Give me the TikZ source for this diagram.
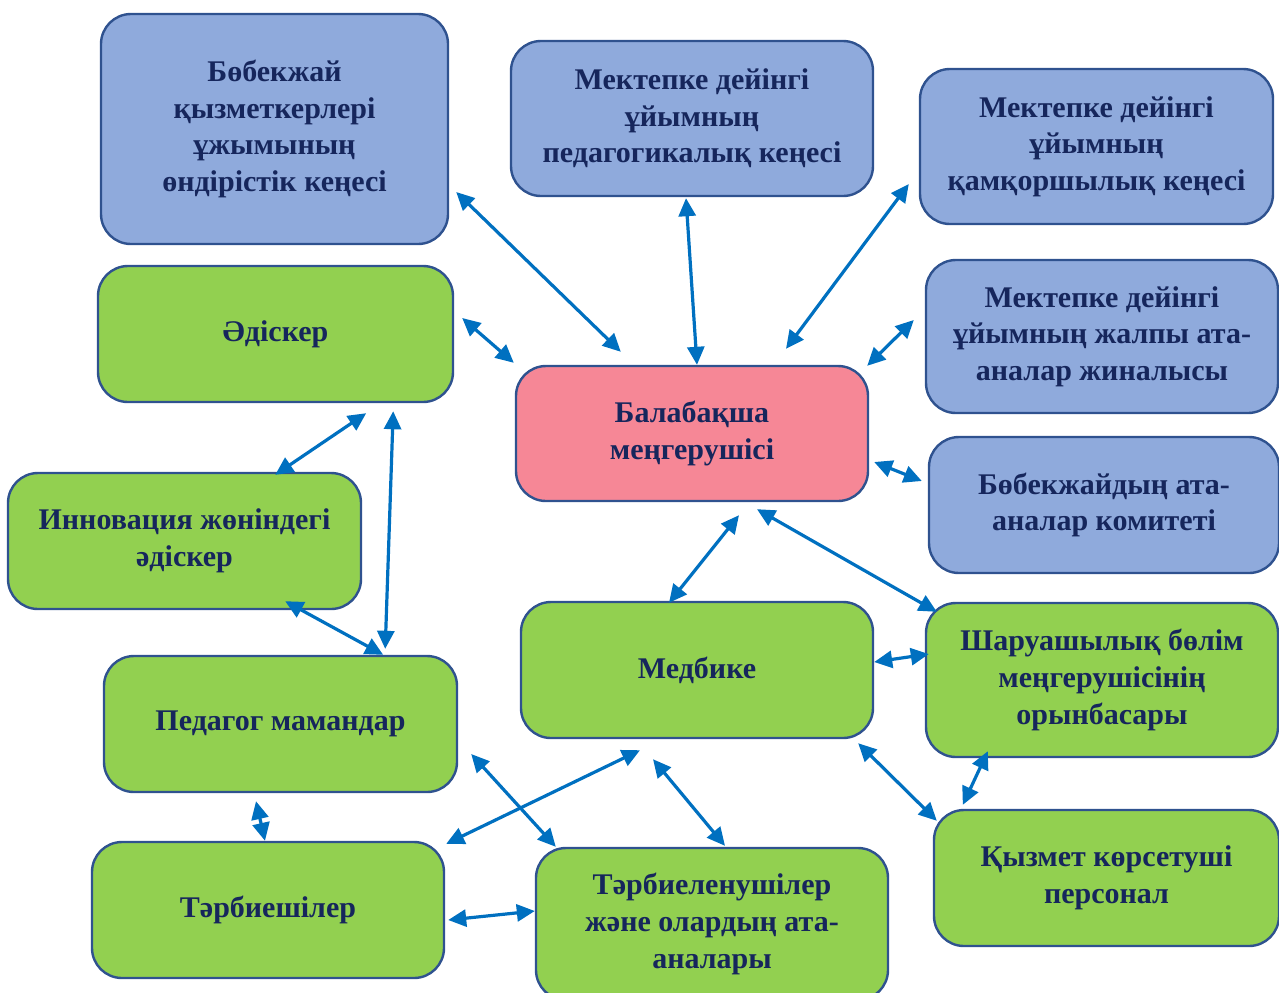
\documentclass[tikz,border=0pt]{standalone}
\usepackage{fontspec}
\setmainfont{Liberation Serif}
\usepackage{tikz}
\usetikzlibrary{arrows.meta, calc}
\definecolor{box-blue}{RGB}{143,170,220}
\definecolor{box-green}{RGB}{146,208,80}
\definecolor{box-pink}{RGB}{246,135,150}
\definecolor{box-line}{RGB}{47,82,143}
\definecolor{text-navy}{RGB}{22,38,92}
\definecolor{link-blue}{RGB}{0,112,192}

\begin{document}
\begin{tikzpicture}[x=0.5pt, y=-0.5pt,
	box/.style={draw=box-line, line width=1.2pt, rounded corners=15pt, inner sep=0pt,
		align=center, text=text-navy, font=\fontsize{15}{18.3}\selectfont\bfseries},
	blue/.style={box, fill=box-blue},
	green/.style={box, fill=box-green},
	pink/.style={box, fill=box-pink},
	link/.style={link-blue, line width=1.6pt,
		{Triangle[length=9pt,width=8.5pt]}-{Triangle[length=9pt,width=8.5pt]}}]
	\useasboundingbox (0,0) rectangle (1279,992);
	\clip (0,0) rectangle (1279,992);
	% councils
	\node[blue, minimum width=173.5pt, minimum height=115pt] (bobek) at (274.5,129) {Бөбекжай\\ қызметкерлері\\ ұжымының\\ өндірістік кеңесі};
	\node[blue, minimum width=181pt, minimum height=77.5pt] (ped) at (692,118.5) {Мектепке дейінгі\\ ұйымның\\ педагогикалық кеңесі};
	\node[blue, minimum width=176.5pt, minimum height=77.5pt] (kam) at (1096.5,146.5) {Мектепке дейінгі\\ ұйымның\\ қамқоршылық кеңесі};
	\node[blue, minimum width=176pt, minimum height=76.5pt] (zhalpy) at (1102,336.5) {Мектепке дейінгі\\ ұйымның жалпы ата-\\ аналар жиналысы};
	\node[blue, minimum width=175pt, minimum height=68pt] (komitet) at (1104,505) {Бөбекжайдың ата-\\ аналар комитеті};
	% head
	\node[pink, minimum width=176pt, minimum height=67.5pt] (boss) at (692,433.5) {Балабақша\\ меңгерушісі};
	% staff
	\node[green, minimum width=177.5pt, minimum height=68pt] (adisker) at (275.5,334) {Әдіскер};
	\node[green, minimum width=176.5pt, minimum height=68pt] (innov) at (184.5,541) {Инновация жөніндегі\\ әдіскер};
	\node[green, minimum width=176pt, minimum height=68pt] (medbike) at (697,670) {Медбике};
	\node[green, minimum width=176pt, minimum height=77pt] (sharua) at (1102,680) {Шаруашылық бөлім\\ меңгерушісінің\\ орынбасары};
	\node[green, minimum width=176.5pt, minimum height=68pt] (pedagog) at (280.5,724) {Педагог мамандар};
	\node[green, minimum width=176pt, minimum height=68pt] (tarbie) at (268,910) {Тәрбиешілер};
	\node[green, minimum width=176pt, minimum height=76pt] (tarbien) at (712,924) {Тәрбиеленушілер\\ және олардың ата-\\ аналары};
	\node[green, minimum width=172.5pt, minimum height=68pt] (kyzmet) at (1106.5,878) {Қызмет көрсетуші\\ персонал};
	% links
	\draw[link] ($(bobek.east)+(7,63)$) -- ($(boss.north west)+(106,-13)$);
	\draw[link] ($(ped.south)+(-6,1)$) -- ($(boss.north)+(5,0)$);
	\draw[link] ($(kam.west)+(-10,37.5)$) -- ($(boss.north)+(94,-16)$);
	\draw[link] ($(zhalpy.west)+(-11,-16.5)$) -- ($(boss.north east)+(-2,1)$);
	\draw[link] ($(boss.east)+(5,28.5)$) -- ($(komitet.west)+(-6,-24)$);
	\draw[link] ($(adisker.east)+(8,-16)$) -- ($(boss.north west)+(-1,-2)$);
	\draw[link] ($(adisker.south east)+(-88,10)$) -- ($(innov.north east)+(-87,3)$);
	\draw[link] ($(adisker.south east)+(-61,8)$) -- ($(pedagog.north east)+(-73,-6)$);
	\draw[link] ($(innov.south east)+(-77,-9)$) -- ($(pedagog.north east)+(-75,0)$);
	\draw[link] ($(boss.south)+(47,13)$) -- ($(medbike.north)+(-28,2)$);
	\draw[link] ($(boss.south)+(65,7)$) -- ($(sharua.north west)+(12,10)$);
	\draw[link] ($(medbike.east)+(0,-8)$) -- ($(sharua.west)+(4,-26)$);
	\draw[link] ($(sharua.south west)+(63,-7)$) -- ($(kyzmet.north west)+(30,-4)$);
	\draw[link] ($(medbike.south east)+(-16,4)$) -- ($(kyzmet.north west)+(4,12)$);
	\draw[link] ($(medbike.south)+(-57,11)$) -- ($(tarbie.north east)+(1,3)$);
	\draw[link] ($(medbike.south)+(-44,20)$) -- ($(tarbien.north)+(13,-1)$);
	\draw[link] ($(pedagog.east)+(13,30)$) -- ($(tarbien.north west)+(21,0)$);
	\draw[link] ($(pedagog.south)+(-24.5,8)$) -- ($(tarbie.north)+(-3,0)$);
	\draw[link] ($(tarbie.east)+(3,10)$) -- ($(tarbien.west)+(0,-13)$);
\end{tikzpicture}
\end{document}
